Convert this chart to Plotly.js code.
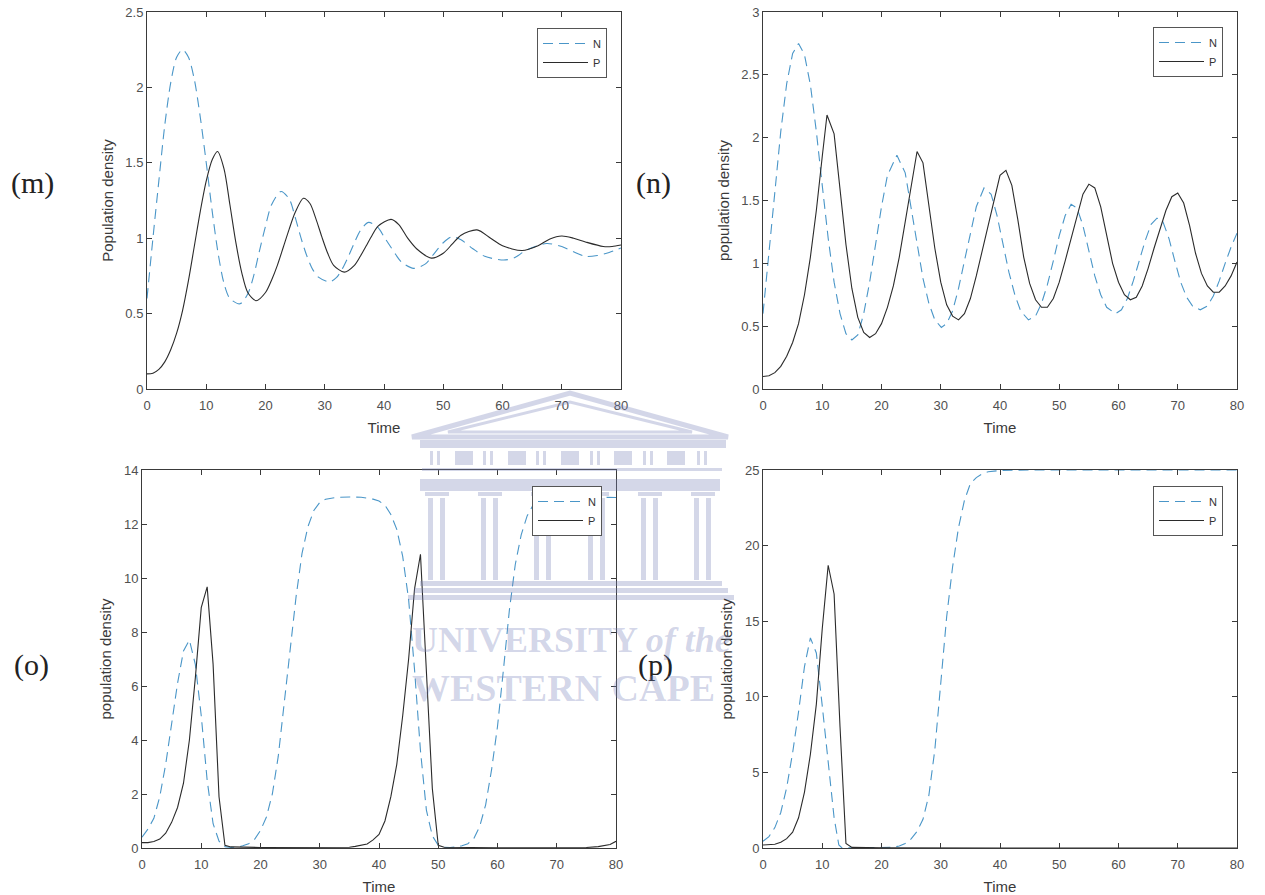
<!DOCTYPE html>
<html><head><meta charset="utf-8">
<script src="https://cdn.plot.ly/plotly-3.0.1.min.js"></script>
<style>html,body{margin:0;padding:0;background:#fff;} #chart{width:1265px;height:895px;}</style>
</head><body><div id="chart"></div>
<script>
// ---------- data ----------
const seriesNames = ['N', 'P'];
const panelLabels = ['(m)', '(n)', '(o)', '(p)'];
const yTitles = ['Population density', 'population density', 'population density', 'population density'];
const xTitle = 'Time';
const yRanges = [[0, 2.5], [0, 3], [0, 14], [0, 25]];
const yDticks = [0.5, 0.5, 2, 5];

// panel (m)
const tN_m = [0,1,2,3,4,5,6,7,8,9,10,11,12,13,14,15.7,17,18,19,20,21,22.6,24,25,26,27,28,29,30.8,32,33,34,35,36,37.4,39,40,41,42,43,45,47,48.5,50,51.5,53,55,57,60.2,62,64,67.4,70,72,74,76,78,80];
const N_m  = [0.6,1.0,1.38,1.75,2.03,2.2,2.25,2.2,2.05,1.8,1.5,1.18,0.9,0.7,0.6,0.565,0.63,0.75,0.92,1.08,1.22,1.31,1.26,1.14,1.0,0.88,0.79,0.74,0.71,0.74,0.8,0.88,0.97,1.05,1.105,1.07,1.01,0.95,0.89,0.84,0.8,0.83,0.9,0.97,1.01,0.99,0.93,0.88,0.855,0.87,0.92,0.965,0.945,0.91,0.88,0.885,0.905,0.935];
const tP_m = [0,1,2,3,4,5,6,7,8,9,10,11,11.9,13,14,15,16,17,18.4,20,21,22,23,24,25,26.4,27.5,28.5,29.5,30.5,31.5,33.3,35,36,37,38,39,41.2,42.5,44,45.5,48,50,51.5,53,55.7,58,60,63.3,66,68,70,72,74,77,78.5,80];
const P_m  = [0.1,0.105,0.13,0.18,0.26,0.37,0.52,0.72,0.95,1.18,1.38,1.52,1.575,1.46,1.22,0.97,0.77,0.64,0.585,0.64,0.72,0.82,0.94,1.06,1.17,1.265,1.23,1.13,1.01,0.9,0.82,0.775,0.82,0.88,0.95,1.02,1.08,1.125,1.09,1.0,0.93,0.868,0.9,0.96,1.02,1.055,1.0,0.95,0.918,0.95,0.995,1.015,1.0,0.975,0.945,0.945,0.955];

// panel (n)
const tN_n = [0,1,2,3,4,5,6,7,8,9,10,11,12,13,14,15,16,17,18,19,20,21,22.6,24,25,26,27,28,29,30.1,31,32,33,34,35,36,37.3,38.5,39.5,40.5,41.5,42.5,43.5,44.8,46,47,48,49,50,51,52,53,54,55,56,57,58,59.5,60.5,61.5,62.5,63.5,64.5,65.5,66.5,67.5,68.5,69.5,70.5,71.5,72.5,73.8,75,76,77,78,79,80];
const N_n  = [0.6,1.1,1.6,2.05,2.43,2.67,2.75,2.66,2.42,2.05,1.62,1.2,0.85,0.6,0.44,0.39,0.43,0.6,0.85,1.15,1.45,1.7,1.86,1.72,1.45,1.15,0.88,0.68,0.55,0.49,0.52,0.62,0.8,1.02,1.25,1.45,1.6,1.55,1.38,1.15,0.93,0.75,0.62,0.55,0.58,0.68,0.83,1.02,1.22,1.38,1.47,1.44,1.3,1.1,0.9,0.75,0.65,0.6,0.63,0.72,0.86,1.02,1.18,1.31,1.36,1.33,1.2,1.02,0.85,0.73,0.66,0.63,0.66,0.74,0.86,1.0,1.13,1.24];
const tP_n = [0,1,2,3,4,5,6,7,8,9,10,10.8,12,13,14,15,16,17,18,19,20,21,22,23,24,25,26,27,28,29,30,31,32,33,34,35,36,37,38,39,40,41,42,43,44,45,46,47,48,49,50,51,52,53,54,55,56,57,58,59,60,61,62,63,64,65,66,67,68,69,70,71,72,73,74,75,76,77,78,79,80];
const P_n  = [0.1,0.105,0.13,0.18,0.26,0.37,0.52,0.75,1.05,1.42,1.85,2.18,2.03,1.6,1.15,0.8,0.57,0.45,0.41,0.44,0.52,0.65,0.82,1.05,1.32,1.62,1.89,1.8,1.48,1.12,0.85,0.67,0.58,0.55,0.6,0.72,0.9,1.1,1.32,1.52,1.7,1.74,1.62,1.35,1.05,0.84,0.71,0.65,0.65,0.72,0.85,1.02,1.2,1.38,1.55,1.63,1.6,1.45,1.22,1.0,0.85,0.75,0.71,0.73,0.82,0.96,1.12,1.28,1.42,1.53,1.56,1.48,1.3,1.08,0.92,0.82,0.77,0.77,0.82,0.9,1.01];

// panel (o)
const tN_o = [0,1,2,3,4,5,6,7,8,9,10,11,12,13,14,15,16,17,18,19,20,21,22,23,24,25,26,27,28,29,30,31,33,35,37,39,40,41,42,43,44,45,46,47,48,49,50,51,52,53,54,55,56,57,58,59,60,61,62,63,64,65,66,67,68,70,75,80];
const N_o  = [0.4,0.7,1.1,1.9,3.1,4.6,6.1,7.3,7.7,6.8,4.9,2.5,0.9,0.25,0.05,0.02,0.03,0.08,0.16,0.32,0.65,1.15,2.0,3.4,5.3,7.4,9.3,10.9,11.9,12.5,12.8,12.92,12.99,13.0,12.99,12.92,12.85,12.7,12.35,11.8,10.8,9.2,6.6,3.6,1.4,0.45,0.1,0.03,0.02,0.04,0.08,0.16,0.35,0.8,1.6,2.9,4.5,6.6,8.8,10.5,11.6,12.3,12.7,12.88,12.95,12.99,13.0,12.98];
const tP_o = [0,1,2,3,4,5,6,7,8,9,10,11,12,13,14,15,20,30,35,36,37,38,39,40,41,42,43,44,45,46,47,48,49,50,51,60,70,75,77,78,79,80];
const P_o  = [0.2,0.2,0.24,0.33,0.55,0.95,1.5,2.4,4.0,6.3,8.9,9.67,6.8,1.9,0.1,0.04,0.02,0.01,0.03,0.06,0.1,0.15,0.3,0.5,1.0,1.9,3.1,4.9,7.0,9.6,10.88,6.5,2.2,0.1,0.03,0.01,0.01,0.02,0.05,0.08,0.13,0.25];

// panel (p)
const tN_p = [0,1,2,3,4,5,6,7,8,9,10,11,12,12.8,13.3,15,20,22,23,24,25,26,27,28,29,30,31,32,33,34,35,36,37,38,40,45,80];
const N_p  = [0.45,0.75,1.35,2.35,4.0,6.3,9.0,12.0,13.9,12.9,9.4,5.5,2.0,0.2,0.02,0.01,0.01,0.05,0.13,0.3,0.6,1.1,1.9,3.5,6.5,11.0,15.3,18.6,21.2,23.0,24.1,24.5,24.75,24.88,24.97,25.0,25.0];
const tP_p = [0,1,2,3,4,5,6,7,8,9,10,11,12,13,14,15,20,40,80];
const P_p  = [0.2,0.21,0.25,0.38,0.62,1.05,2.0,3.7,6.2,9.5,14.5,18.7,16.8,8.0,0.3,0.04,0.01,0.0,0.0];

const watermarkLines = ['UNIVERSITY <i>of the</i>', 'WESTERN CAPE'];

// ---------- layout helpers ----------
const W = 1265, H = 895;
const px = x => x / W;
const py = y => 1 - y / H;

const boxes = [ // plot boxes in page pixels: [left, right, top, bottom]
  [147, 621, 12, 389],
  [763, 1237, 12, 389],
  [142, 616, 470, 848],
  [763, 1237, 470, 848]
];
const legendPos = [[607, 28], [1223, 27], [602, 486], [1223, 486]];
const labelPos = [[32, 183], [653, 183], [31, 665], [655, 665]];

const tData = [[tN_m, N_m, tP_m, P_m], [tN_n, N_n, tP_n, P_n], [tN_o, N_o, tP_o, P_o], [tN_p, N_p, tP_p, P_p]];

const blue = '#4a96c8', dark = '#2b2b2b', axc = '#3a3a3a';
const sans = 'Liberation Sans, Arial, Helvetica, sans-serif';
const serif = 'Liberation Serif, Times New Roman, serif';

const traces = [];
const layout = {
  width: W, height: H,
  margin: {l: 0, r: 0, t: 0, b: 0},
  paper_bgcolor: '#ffffff', plot_bgcolor: 'rgba(0,0,0,0)',
  showlegend: true,
  annotations: [], shapes: []
};

for (let i = 0; i < 4; i++) {
  const sfx = i === 0 ? '' : String(i + 1);
  const [tN, N, tP, P] = tData[i];
  const shape = i === 0 ? 'spline' : 'linear';
  const legName = 'legend' + sfx;
  traces.push({x: tN, y: N, name: seriesNames[0], type: 'scatter', mode: 'lines',
    xaxis: 'x' + sfx, yaxis: 'y' + sfx, legend: legName, hoverinfo: 'skip',
    line: {color: blue, width: 1.1, dash: '10px,6px', shape: shape, smoothing: 0.8}});
  traces.push({x: tP, y: P, name: seriesNames[1], type: 'scatter', mode: 'lines',
    xaxis: 'x' + sfx, yaxis: 'y' + sfx, legend: legName, hoverinfo: 'skip',
    line: {color: dark, width: 1.1, shape: shape, smoothing: 0.8}});

  const b = boxes[i];
  const common = {showline: true, linecolor: axc, linewidth: 1, mirror: 'allticks', ticks: 'inside',
    ticklen: 5, tickcolor: axc, tickwidth: 1, showgrid: false, zeroline: false, fixedrange: true,
    tickfont: {family: sans, size: 13, color: '#505050'}};
  layout['xaxis' + sfx] = Object.assign({}, common, {
    domain: [px(b[0]), px(b[1])], anchor: 'y' + sfx, range: [0, 80], dtick: 10, tick0: 0,
    ticklabelstandoff: 4,
    title: {text: xTitle, font: {family: sans, size: 15, color: '#3a3a3a'}, standoff: 10}
  });
  layout['yaxis' + sfx] = Object.assign({}, common, {
    domain: [py(b[3]), py(b[2])], anchor: 'x' + sfx, range: yRanges[i], dtick: yDticks[i], tick0: 0,
    title: {text: yTitles[i], font: {family: sans, size: 15, color: '#3a3a3a'}, standoff: 8}
  });
  const lp = legendPos[i];
  layout[legName] = {x: px(lp[0]), xanchor: 'right', y: py(lp[1]), yanchor: 'top',
    bgcolor: '#ffffff', bordercolor: '#555', borderwidth: 1,
    font: {family: sans, size: 11, color: '#333'}, itemwidth: 45, tracegroupgap: 0};
  const lb = labelPos[i];
  layout.annotations.push({xref: 'paper', yref: 'paper', x: px(lb[0]), y: py(lb[1]),
    xanchor: 'center', yanchor: 'middle', showarrow: false, text: panelLabels[i],
    font: {family: serif, size: 30, color: '#222'}});
}

// ---------- watermark (decorative, above the plots, translucent) ----------
const wmFill = 'rgb(120,130,185)';
const wmOp = 0.32;
function rect(x0, y0, x1, y1) {
  layout.shapes.push({type: 'rect', xref: 'paper', yref: 'paper', x0: px(x0), x1: px(x1), y0: py(y1), y1: py(y0),
    fillcolor: wmFill, opacity: wmOp, line: {width: 0}, layer: 'above'});
}
function poly(pts, lw) {
  const d = pts.map((p, k) => (k ? 'L' : 'M') + px(p[0]).toFixed(5) + ',' + py(p[1]).toFixed(5)).join(' ') + ' Z';
  layout.shapes.push({type: 'path', xref: 'paper', yref: 'paper', path: d,
    line: {color: wmFill, width: lw}, opacity: wmOp, layer: 'above'});
}
poly([[412, 437], [570, 393], [728, 437]], 5);
poly([[448, 432], [570, 402], [692, 432]], 3);
rect(420, 440, 726, 448);
// frieze
[455, 508, 561, 614, 667].forEach(x => rect(x, 451, x + 18, 465));
[430, 483, 536, 590, 643, 697].forEach(x => { rect(x, 451, x + 3, 465); rect(x + 7, 451, x + 10, 465); });
rect(422, 468, 722, 471);
rect(420, 479, 720, 491);
// columns
[437, 490, 543, 597, 650, 703].forEach(c => {
  rect(c - 12, 492, c + 12, 496);
  rect(c - 9, 498, c - 4, 580);
  rect(c + 3, 498, c + 8, 580);
});
rect(420, 581, 722, 586);
rect(414, 588, 728, 593);
rect(408, 595, 734, 600);
layout.annotations.push({xref: 'paper', yref: 'paper', x: px(410), y: py(640), xanchor: 'left', yanchor: 'middle',
  showarrow: false, text: watermarkLines[0], font: {family: serif, size: 36, color: 'rgba(120,130,185,0.32)', weight: 'bold'}});
layout.annotations.push({xref: 'paper', yref: 'paper', x: px(410), y: py(688), xanchor: 'left', yanchor: 'middle',
  showarrow: false, text: watermarkLines[1], font: {family: serif, size: 38, color: 'rgba(120,130,185,0.32)', weight: 'bold'}});

Plotly.newPlot('chart', traces, layout, {displayModeBar: false, staticPlot: true});
</script></body></html>
